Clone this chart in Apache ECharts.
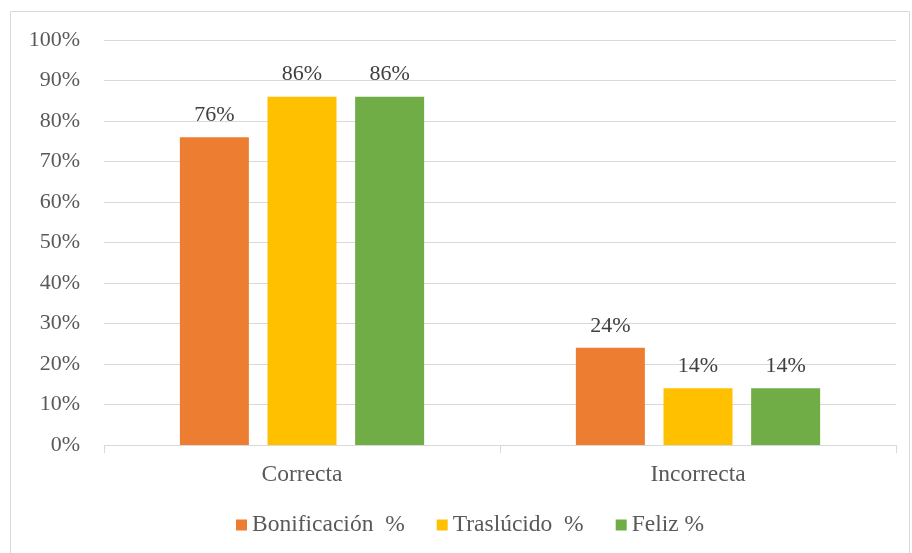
<html lang="es">
<head>
    <meta charset="UTF-8">
    <title>Respuestas</title>
    <script src="https://cdn.jsdelivr.net/npm/echarts@6/dist/echarts.min.js"></script>
    <style>
        html, body { margin: 0; padding: 0; background: #fff; }
        #chart { width: 912px; height: 553px; }
    </style>
</head>
<body>
    <div id="chart"></div>
    <script>
        // datos
        var categorias = ['Correcta', 'Incorrecta'];
        var bonificacion = [76, 24];
        var traslucido = [86, 14];
        var feliz = [86, 14];
        var nombres = ['Bonificación  %', 'Traslúcido  %', 'Feliz %'];
        var colores = ['#ed7d31', '#ffc000', '#70ad47'];

        var fuente = '"Liberation Serif", "Times New Roman", serif';

        function serie(nombre, datos, color) {
            return {
                name: nombre,
                type: 'bar',
                data: datos,
                barWidth: 69,
                barGap: '27%',
                itemStyle: { color: color },
                label: {
                    show: true,
                    position: 'top',
                    distance: 11,
                    formatter: '{c}%',
                    fontFamily: fuente,
                    fontSize: 22,
                    color: '#404040'
                }
            };
        }

        var myChart = echarts.init(document.getElementById('chart'));
        var option = {
            animation: false,
            textStyle: { fontFamily: fuente },
            graphic: [{
                type: 'rect',
                shape: { x: 10.5, y: 11.5, width: 899, height: 560 },
                style: { fill: 'none', stroke: '#d9d9d9', lineWidth: 1 },
                silent: true
            }],
            grid: { left: 104, right: 16, top: 40, bottom: 108 },
            legend: {
                bottom: 11,
                left: 231,
                itemWidth: 11,
                itemHeight: 11,
                itemGap: 32,
                itemTextGap: 6,
                icon: 'rect',
                textStyle: { fontFamily: fuente, fontSize: 23.5, color: '#595959' },
                data: nombres
            },
            xAxis: {
                type: 'category',
                data: categorias,
                axisLine: { lineStyle: { color: '#d9d9d9', width: 1 } },
                axisTick: { show: true, length: 8, lineStyle: { color: '#d9d9d9' } },
                axisLabel: { fontFamily: fuente, fontSize: 23.5, color: '#595959', margin: 18 }
            },
            yAxis: {
                type: 'value',
                min: 0,
                max: 100,
                interval: 10,
                axisLine: { show: false },
                axisTick: { show: false },
                splitLine: { lineStyle: { color: '#d9d9d9', width: 1 } },
                axisLabel: { formatter: '{value}%', fontFamily: fuente, fontSize: 22, color: '#595959', margin: 24 }
            },
            series: [
                serie(nombres[0], bonificacion, colores[0]),
                serie(nombres[1], traslucido, colores[1]),
                serie(nombres[2], feliz, colores[2])
            ]
        };
        myChart.setOption(option);
    </script>
</body>
</html>
